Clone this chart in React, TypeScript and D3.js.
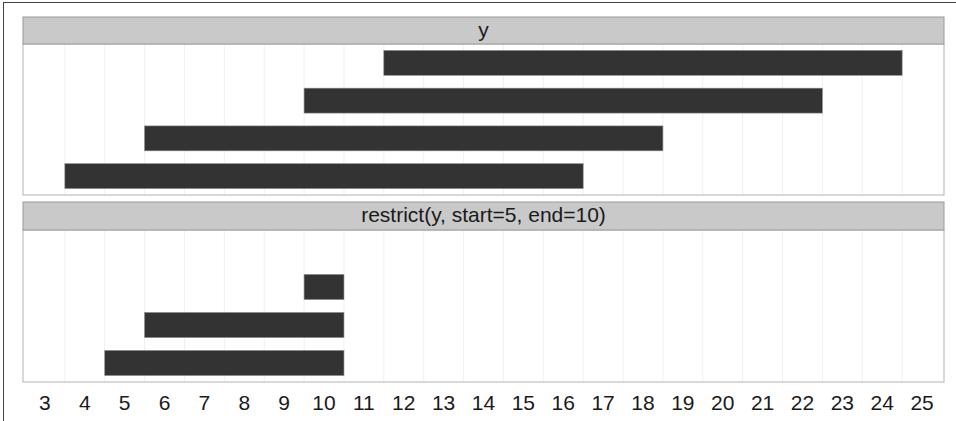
import React from "react";
import * as d3 from "d3";

// ---- data ----
const rows = [1, 2, 3, 4];
const starts = [12, 10, 6, 4];
const ends = [24, 22, 18, 16];
// restrict(y, start=5, end=10)
const restrictedStarts: (number | null)[] = [null, 10, 6, 5];
const restrictedEnds: (number | null)[] = [null, 10, 10, 10];
const tickValues = [3, 4, 5, 6, 7, 8, 9, 10, 11, 12, 13, 14, 15, 16, 17, 18, 19, 20, 21, 22, 23, 24, 25];
const gridValues = [3.5, 4.5, 5.5, 6.5, 7.5, 8.5, 9.5, 10.5, 11.5, 12.5, 13.5, 14.5, 15.5, 16.5, 17.5, 18.5, 19.5, 20.5, 21.5, 22.5, 23.5, 24.5];
const panelTitles = ["y", "restrict(y, start=5, end=10)"];

const W = 956;
const H = 421;
const left = 23;
const right = 944;
const panels = [
  { stripTop: 17, plotTop: 44, plotBottom: 195 },
  { stripTop: 202, plotTop: 230, plotBottom: 382 },
];
const FONT = "'Liberation Sans', Arial, sans-serif";

export default function App() {
  const x = d3.scaleLinear().domain([2.45, 25.55]).range([left, right]);
  const seriesStarts = [starts, restrictedStarts];
  const seriesEnds = [ends, restrictedEnds];

  return (
    <svg
      width={W}
      height={H}
      style={{ position: "absolute", left: 0, top: 0, background: "#fff" }}
    >
      <rect x={3.5} y={2.5} width={1200} height={1200} fill="none" stroke="#444" strokeWidth={1} />
      {panels.map((p, pi) => {
        const y = d3.scaleLinear().domain([0.5, 4.5]).range([p.plotTop, p.plotBottom]);
        const s = seriesStarts[pi];
        const e = seriesEnds[pi];
        return (
          <g key={pi}>
            <rect x={left} y={p.plotTop} width={right - left} height={p.plotBottom - p.plotTop} fill="#fff" />
            {gridValues.map((g) => (
              <line
                key={g}
                x1={x(g)}
                x2={x(g)}
                y1={p.plotTop}
                y2={p.plotBottom}
                stroke="#f0f0f0"
                strokeWidth={1}
              />
            ))}
            {rows.map((r, i) => {
              const a = s[i];
              const b = e[i];
              if (a == null || b == null) return null;
              return (
                <rect
                  key={r}
                  x={x(a - 0.5)}
                  width={x(b + 0.5) - x(a - 0.5)}
                  y={y(r - 0.33)}
                  height={y(r + 0.33) - y(r - 0.33)}
                  fill="#333333"
                  stroke="#8a8a8a"
                  strokeWidth={0.6}
                />
              );
            })}
            <rect
              x={left}
              y={p.plotTop}
              width={right - left}
              height={p.plotBottom - p.plotTop}
              fill="none"
              stroke="#b3b3b3"
              strokeWidth={1}
            />
            <rect
              x={left}
              y={p.stripTop}
              width={right - left}
              height={p.plotTop - p.stripTop}
              fill="#c9c9c9"
              stroke="#9a9a9a"
              strokeWidth={1}
            />
            <text
              x={(left + right) / 2}
              y={(p.stripTop + p.plotTop) / 2 + 6}
              textAnchor="middle"
              fontFamily={FONT}
              fontSize={21}
              fill="#1a1a1a"
            >
              {panelTitles[pi]}
            </text>
          </g>
        );
      })}
      {tickValues.map((t) => (
        <text
          key={t}
          x={x(t)}
          y={410}
          textAnchor="middle"
          fontFamily={FONT}
          fontSize={21}
          fill="#1a1a1a"
        >
          {t}
        </text>
      ))}
    </svg>
  );
}
